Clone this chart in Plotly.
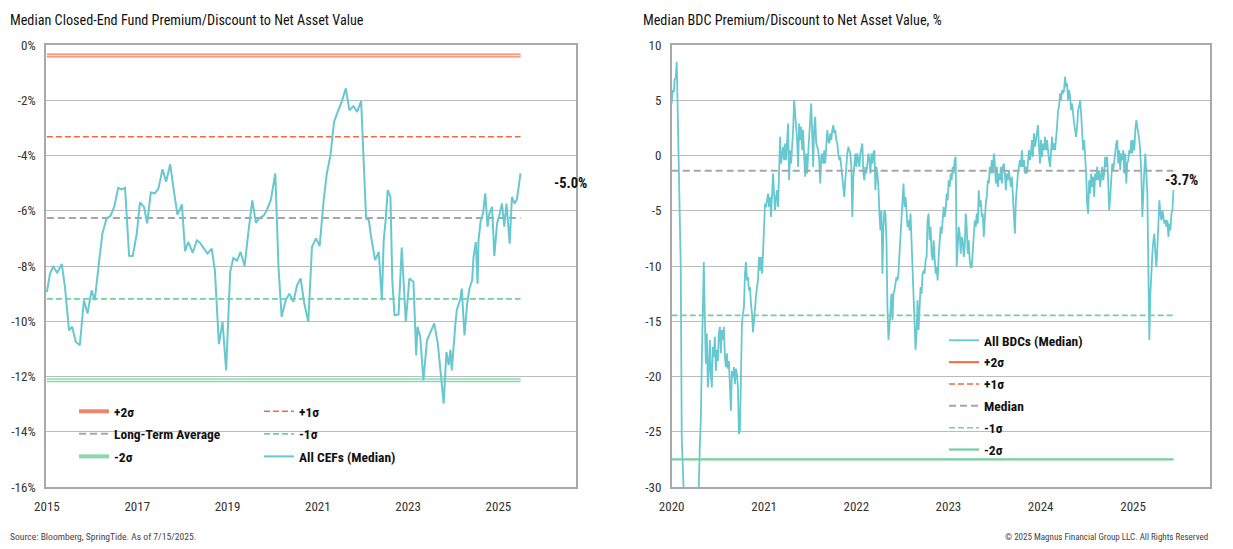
import pandas as pd
import plotly.graph_objects as go

# ---------------- data: left chart (CEF median premium/discount, %) ----------------
cef_years = [2015.00, 2015.07, 2015.14, 2015.23, 2015.33, 2015.40, 2015.49, 2015.56, 2015.64, 2015.73,
             2015.82, 2015.90, 2015.99, 2016.06, 2016.16, 2016.23, 2016.32, 2016.41, 2016.49, 2016.58,
             2016.66, 2016.73, 2016.82, 2016.90, 2016.99, 2017.06, 2017.15, 2017.22, 2017.30, 2017.39,
             2017.47, 2017.56, 2017.64, 2017.73, 2017.82, 2017.89, 2017.99, 2018.06, 2018.13, 2018.23,
             2018.32, 2018.39, 2018.48, 2018.56, 2018.65, 2018.72, 2018.81, 2018.89, 2018.97, 2019.06,
             2019.13, 2019.21, 2019.29, 2019.38, 2019.46, 2019.55, 2019.63, 2019.71, 2019.80, 2019.87,
             2019.96, 2020.06, 2020.13, 2020.20, 2020.29, 2020.37, 2020.46, 2020.54, 2020.62, 2020.70,
             2020.79, 2020.87, 2020.96, 2021.04, 2021.13, 2021.20, 2021.28, 2021.36, 2021.44, 2021.53,
             2021.62, 2021.70, 2021.79, 2021.87, 2021.96, 2022.01, 2022.07, 2022.13, 2022.18, 2022.27,
             2022.35, 2022.42, 2022.46, 2022.50, 2022.55, 2022.61, 2022.65, 2022.70, 2022.79, 2022.86,
             2022.95, 2023.03, 2023.12, 2023.18, 2023.21, 2023.27, 2023.34, 2023.42, 2023.49, 2023.58,
             2023.66, 2023.72, 2023.79, 2023.85, 2023.90, 2023.94, 2023.97, 2024.05, 2024.08, 2024.16,
             2024.19, 2024.25, 2024.31, 2024.36, 2024.42, 2024.45, 2024.50, 2024.54, 2024.56, 2024.61,
             2024.66, 2024.71, 2024.76, 2024.80, 2024.86, 2024.91, 2024.97, 2025.03, 2025.08, 2025.13,
             2025.18, 2025.25, 2025.30, 2025.36, 2025.41, 2025.45, 2025.49]
cef_values = [-8.94, -8.27, -8.03, -8.24, -7.93, -8.76, -10.33, -10.2, -10.75, -10.87,
              -9.24, -9.72, -8.88, -9.24, -7.79, -6.82, -6.28, -6.18, -5.86, -5.17,
              -5.23, -5.17, -7.63, -7.64, -6.82, -5.70, -5.86, -6.46, -5.34, -5.37,
              -5.19, -4.50, -4.95, -4.32, -5.37, -6.14, -5.77, -7.46, -7.13, -7.52,
              -7.07, -7.16, -7.37, -7.55, -7.37, -8.15, -10.83, -10.02, -11.78, -8.21,
              -7.71, -7.81, -7.49, -8.0, -6.82, -5.62, -6.44, -6.26, -6.18, -5.98,
              -5.62, -4.65, -8.03, -9.84, -9.24, -9.0, -9.30, -8.70, -8.45, -9.36,
              -10.02, -7.31, -7.0, -7.28, -5.62, -4.65, -3.99, -2.78, -2.42, -2.05,
              -1.57, -2.36, -2.21, -2.42, -2.03, -3.93, -6.28, -6.34, -6.94, -7.79,
              -7.49, -9.24, -7.07, -6.40, -5.25, -5.50, -8.51, -9.78, -9.75, -7.33,
              -10.02, -8.45, -8.57, -11.23, -10.2, -10.57, -12.14, -10.69, -10.39, -10.08,
              -10.81, -11.9, -12.98, -11.11, -11.59, -11.03, -11.78, -10.08, -9.60, -9.18,
              -8.82, -10.51, -9.36, -8.82, -8.51, -7.67, -7.13, -8.64, -7.07, -6.34,
              -6.10, -5.37, -6.58, -6.10, -5.86, -7.64, -6.46, -6.10, -5.74, -6.58,
              -5.74, -7.19, -5.50, -5.74, -5.59, -5.13, -4.65]
cef_level_names = ["+2σ", "+1σ", "Long-Term Average", "-1σ", "-2σ"]
cef_level_values = [-0.38, -3.32, -6.26, -9.19, -12.14]
cef_last_label = "-5.0%"

# ---------------- data: right chart (BDC median premium/discount, %) ----------------
bdc_first_date = "2020-01-01"
bdc_last_date = "2025-06-10"
bdc_values = [
    4.71, 5.92, 5.7, 6.9, 7.0, 8.49, 4.0, 0.18, -4.05, -10.0,
    -25.5, -29.0, -32, -33, -33.5, -34, -34, -34, -33.5, -33,
    -33, -32.5, -32, -32, -31.5, -31, -31, -30, -26.3, -24.0,
    -18.6, -15.0, -9.64, -14.6, -18.85,
    -16.1, -21.0, -19.5, -16.7, -19.8, -21.0, -17.3, -18.2, -16.4, -19.5,
    -17.6, -18.6, -16.1, -15.5, -17.9, -15.8, -16.7, -15.5, -18.2, -19.15,
    -17.9, -19.3, -18.6, -21.0, -23.1, -19.5, -20.1, -19.15, -20.7, -19.3,
    -19.8, -21.0, -25.2, -24.9, -19.8, -15.2, -14.3, -13.7, -10.7, -9.64,
    -11.3, -11.0, -12.2, -11.9, -13.4, -14.3, -16.0, -14.6, -13.7, -12.8,
    -11.9, -11.3, -9.18, -10.4, -9.18, -10.7, -8.88, -6.16, -4.35, -4.65,
    -4.05, -3.44, -4.65, -3.75, -5.56, -3.75, -1.63, -3.44, -4.95, -3.75,
    -3.14, -4.65, 0.18, 1.69, -0.73, 0.18, 0.79, -0.42, 1.09, -0.42,
    1.39, 2.9, -2.24, 0.48, -0.73, 0.79, 2.3, 5.01, 3.81, 2.6,
    1.39, -1.03,
    2.9, 1.39, 2.6, 0.48, 2.3, -0.12, -1.93, 0.18, -1.63, 0.18,
    2.0, 2.9, 4.71, 2.0, -1.03, 2.6, 3.5, 1.09, 0.79, 0.48,
    -0.42, -2.54, -0.12, 0.18, -0.73, 0.48, -0.73, 1.09, 2.3, 1.39,
    1.09, 2.0, 1.39, 2.3, 2.75, 2.0, 2.3, 1.39, 1.09, 0.18,
    -0.42, -0.12, -1.03, -1.63, -2.84, -3.75, -2.24, -0.42, 0.18, 0.79,
    0.48, 0.18, -1.03, -5.56, -1.93, -0.42, 0.18, -1.03, 0.18, -0.42,
    -1.03, 0.18, 0.79, 1.09, -1.63, -2.24, -1.03, -1.63, -0.73, 0.18,
    -0.42, -1.63, 0.18, -0.73, 0.18, 0.48, -3.14, -1.03, -1.63, -2.84,
    -5.26, -6.77, -4.95, -10.7, -6.46, -4.95, -5.26, -7.67, -13.7, -16.7,
    -15.5, -13.7, -12.5, -14.9, -12.5, -12.2, -11.6, -11.0, -11.3, -10.7,
    -8.88, -7.37, -5.86, -4.35, -2.54, -4.65, -3.75, -4.95, -6.46, -5.86,
    -6.77, -5.26, -7.67, -9.18, -11.3, -15.2, -17.6, -16.1, -13.1, -15.8,
    -13.1, -11.9, -12.5, -10.7, -10.4, -10.7, -9.49, -9.18, -5.86,
    -5.26, -7.67, -6.46, -8.88, -9.49, -7.67, -8.88, -10.7, -10.1, -11.3,
    -9.18, -7.37, -6.46, -7.07, -5.26, -4.65, -5.56, -4.95, -3.44, -4.05,
    -2.24, -2.84, -1.63, -2.24, -1.03, -1.63, -0.42, -0.12, -10.1, -7.67,
    -6.46, -7.07, -8.88, -7.37, -7.67, -9.18, -8.28, -5.26, -6.46, -8.88,
    -7.67, -9.49, -10.1, -10.1, -8.28, -6.46, -5.86, -6.46, -5.26, -6.16,
    -3.14, -4.65, -4.05, -5.56, -5.26, -7.37, -5.26, -4.35, -3.75, -2.24,
    -2.54, -1.03, -1.63, -0.42, -1.63, 0.18, -0.73, -2.54, -1.03, -2.84,
    -1.63, -2.24, -1.03, -2.54, -1.03, -0.73, -1.63, -3.14, -1.63, -2.24,
    -1.33, -2.24, -2.84, -1.93, -3.75, -5.26, -7.07, -4.05, -2.24, -1.63,
    -1.03, -0.42, -1.03, 0.48, -1.03, -0.42, -1.63, -1.03, -1.63, -0.42,
    0.48, -0.42, 0.18, 1.39, -0.12, 2.0, 0.79, 1.39, 2.3, 2.75,
    0.79, -0.73, 1.39, -0.12, 1.09, 0.48, 1.69, 0.48, 1.39, 0.18,
    -0.42, -1.03, 1.09, 1.69, 0.48, 1.09, 0.48, 1.39, 2.6, 4.1,
    4.41, 5.62, 5.01, 5.92, 5.62, 5.92, 7.13, 6.22, 6.53, 5.01,
    5.92, 5.32, 4.11, 4.71, 3.5, 2.9, 2.3, 1.69, 2.6, 4.11,
    4.41, 5.01, 3.81, 2.0, 0.48, 1.39, 0.18, -1.63, -4.35, -5.26,
    -2.24, -3.44, -1.63, -2.84, -1.93, -3.75, -1.63, -2.24, -1.03, -2.24,
    -1.33, -2.84, -1.93, -1.03, -2.24, -1.63, -0.12, -1.03, -0.12, -2.24,
    -4.95, -3.75, -2.24, -0.73, -1.33, -0.42, 0.48, 1.09, 1.39, -0.73,
    0.48, -1.33, 0.18, -0.42, 0.48, -1.63, 0.18, -2.54, -0.73, -0.42,
    0.48, 0.18, 1.39, 0.18, 1.39, 0.48, 2.3, 3.2, 2.6, 2.0,
    1.39, 0.18, -1.63, -5.56, -2.84, -1.33, 0.18, -1.63, -3.44, -10.1,
    -16.7, -12.5, -10.1, -8.88, -7.67, -7.07, -8.88, -10.1, -8.28, -5.86,
    -4.05, -5.26, -5.86, -4.95, -5.56, -6.16, -5.86, -6.46, -5.86, -7.37,
    -6.16, -6.77, -5.26, -4.95, -3.14,
]
bdc_level_names = ["+2σ", "+1σ", "Median", "-1σ", "-2σ"]
bdc_level_values = [24.7, 11.67, -1.39, -14.47, -27.5]
bdc_last_label = "-3.7%"

cef_xticks = ["2015", "2017", "2019", "2021", "2023", "2025"]
cef_yticks = [0, -2, -4, -6, -8, -10, -12, -14, -16]
cef_yticktext = ["0%", "-2%", "-4%", "-6%", "-8%", "-10%", "-12%", "-14%", "-16%"]
bdc_xticks = ["2020", "2021", "2022", "2023", "2024", "2025"]
bdc_yticks = [10, 5, 0, -5, -10, -15, -20, -25, -30]
bdc_yticktext = ["10", "5", "0", "-5", "-10", "-15", "-20", "-25", "-30"]

title_left = "Median Closed-End Fund Premium/Discount to Net Asset Value"
title_right = "Median BDC Premium/Discount to Net Asset Value, %"
source_text = "Source: Bloomberg, SpringTide. As of 7/15/2025."
copyright_text = "© 2025 Magnus Financial Group LLC. All Rights Reserved"


def yr2dt(y):
    yr = int(y)
    a = pd.Timestamp(yr, 1, 1)
    b = pd.Timestamp(yr + 1, 1, 1)
    return a + (b - a) * (y - yr)


cef_dates = [yr2dt(v) for v in cef_years]
bdc_dates = pd.date_range(bdc_first_date, bdc_last_date, periods=len(bdc_values))

FONT = "Roboto Condensed, Liberation Sans Narrow, Arial Narrow, Liberation Sans, Arial, sans-serif"
TEAL = "#68c8cf"
RED = "#f26a3d"
RED2 = "#f08466"
RED2_IN = "#fde0d6"
GRAY = "#a6a6a6"
GREEN = "#72cf9e"
GREEN2 = "#8cd7ae"
GREEN2_IN = "#dcf4e7"
DASH_C = "6px,3px"
DASH_G = "7px,4px"

# page body has an 8px margin: figure is placed at (8, 8) in the 1233x549 window
OFF = 8
W, H = 1233 - OFF, 549 - OFF


def px_x(p):
    return (p - OFF) / W


def px_y(p):
    return 1 - (p - OFF) / H


fig = go.Figure()

# ---- left chart traces ----
cef_span = [cef_dates[0], cef_dates[-1]]
left_styles = [
    dict(color=RED2, width=4, dash="solid", inner=RED2_IN, legend="legend"),
    dict(color=RED, width=1.6, dash=DASH_C, inner=None, legend="legend2"),
    dict(color=GRAY, width=2, dash=DASH_G, inner=None, legend="legend"),
    dict(color=GREEN, width=1.6, dash=DASH_C, inner=None, legend="legend2"),
    dict(color=GREEN2, width=4, dash="solid", inner=GREEN2_IN, legend="legend"),
]
for i, (nm, lv) in enumerate(zip(cef_level_names, cef_level_values)):
    st = left_styles[i]
    fig.add_trace(go.Scatter(x=cef_span, y=[lv, lv], mode="lines", name=nm,
                             line=dict(color=st["color"], width=st["width"], dash=st["dash"]),
                             xaxis="x", yaxis="y", legend=st["legend"], legendgroup="L%d" % i,
                             hoverinfo="skip"))
    if st["inner"]:
        fig.add_trace(go.Scatter(x=cef_span, y=[lv, lv], mode="lines", showlegend=False,
                                 line=dict(color=st["inner"], width=1.5),
                                 xaxis="x", yaxis="y", hoverinfo="skip"))
fig.add_trace(go.Scatter(x=cef_dates, y=cef_values, mode="lines", name="All CEFs (Median)",
                         line=dict(color=TEAL, width=2), xaxis="x", yaxis="y",
                         legend="legend2", legendgroup="L9"))

# ---- right chart traces ----
fig.add_trace(go.Scatter(x=bdc_dates, y=bdc_values, mode="lines", name="All BDCs (Median)",
                         line=dict(color=TEAL, width=1.8), xaxis="x2", yaxis="y2",
                         legend="legend3", legendgroup="R0"))
bdc_span = [bdc_dates[0], bdc_dates[-1]]
right_styles = [
    dict(color=RED, width=2, dash="solid"),
    dict(color=RED, width=1.6, dash=DASH_C),
    dict(color=GRAY, width=2, dash=DASH_G),
    dict(color=GREEN, width=1.6, dash=DASH_C),
    dict(color=GREEN, width=2.2, dash="solid"),
]
for i, (nm, lv) in enumerate(zip(bdc_level_names, bdc_level_values)):
    st = right_styles[i]
    fig.add_trace(go.Scatter(x=bdc_span, y=[lv, lv], mode="lines", name=nm,
                             line=dict(color=st["color"], width=st["width"], dash=st["dash"]),
                             xaxis="x2", yaxis="y2", legend="legend3", legendgroup="R%d" % (i + 1),
                             hoverinfo="skip"))

axis_common = dict(showgrid=False, showline=True, mirror=True, linecolor="#a9a9a9", linewidth=1.5,
                   ticks="", tickfont=dict(family=FONT, size=13, color="#333333"), zeroline=False,
                   automargin=False, ticklabelstandoff=7)
yaxis_common = dict(showgrid=True, gridcolor="#bcbcbc", gridwidth=1, showline=True, mirror=True,
                    linecolor="#a9a9a9", linewidth=1.5, ticks="", zeroline=False, automargin=False,
                    tickfont=dict(family=FONT, size=13, color="#333333"), ticklabelstandoff=6)

leg_common = dict(bgcolor="rgba(0,0,0,0)", font=dict(family=FONT, size=13.5, color="#111111", weight="bold"),
                  orientation="v", xanchor="left", yanchor="top", itemwidth=30)

fig.update_layout(
    width=W, height=H, margin=dict(l=0, r=0, t=0, b=0, autoexpand=False),
    paper_bgcolor="white", plot_bgcolor="white",
    xaxis=dict(domain=[px_x(46), px_x(576)], type="date",
               range=[yr2dt(2014.98), yr2dt(2026.72)],
               tickvals=[pd.Timestamp(int(t), 1, 1) for t in cef_xticks], ticktext=cef_xticks,
               **axis_common),
    yaxis=dict(domain=[px_y(487), px_y(45)], range=[-16, 0], tickvals=cef_yticks,
               ticktext=cef_yticktext, anchor="x", **yaxis_common),
    xaxis2=dict(domain=[px_x(671.7), px_x(1210)], type="date", anchor="y2",
                range=[yr2dt(2020.0), yr2dt(2025.835)],
                tickvals=[pd.Timestamp(int(t), 1, 1) for t in bdc_xticks], ticktext=bdc_xticks,
                **axis_common),
    yaxis2=dict(domain=[px_y(487), px_y(45)], range=[-30, 10], tickvals=bdc_yticks,
                ticktext=bdc_yticktext, anchor="x2", **yaxis_common),
    legend=dict(x=px_x(74), y=px_y(396), tracegroupgap=2, **leg_common),
    legend2=dict(x=px_x(259), y=px_y(396), tracegroupgap=2, **leg_common),
    legend3=dict(x=px_x(944), y=px_y(325), tracegroupgap=1.3, **leg_common),
    showlegend=True,
    shapes=[
        dict(type="rect", xref="paper", yref="paper", x0=px_x(58), x1=px_x(430),
             y0=px_y(470), y1=px_y(395), fillcolor="white", line=dict(width=0), layer="between"),
        dict(type="rect", xref="paper", yref="paper", x0=px_x(940), x1=px_x(1100),
             y0=px_y(470), y1=px_y(332), fillcolor="white", line=dict(width=0), layer="between"),
    ],
    annotations=[
        dict(text=title_left, x=px_x(8), y=px_y(20), xref="paper", yref="paper", xanchor="left",
             yanchor="middle", showarrow=False, font=dict(family=FONT, size=14.2, color="#111111")),
        dict(text=title_right, x=px_x(641), y=px_y(20), xref="paper", yref="paper", xanchor="left",
             yanchor="middle", showarrow=False, font=dict(family=FONT, size=14.2, color="#111111")),
        dict(text=cef_last_label, x=cef_dates[-1], y=cef_values[-1], xref="x", yref="y",
             xanchor="left", yanchor="middle", xshift=31, yshift=-10, showarrow=False,
             font=dict(family=FONT, size=14.5, color="#111111", weight="bold")),
        dict(text=bdc_last_label, x=bdc_dates[-1], y=bdc_values[-1], xref="x2", yref="y2",
             xanchor="left", yanchor="middle", xshift=-10, yshift=10, showarrow=False,
             font=dict(family=FONT, size=14.5, color="#111111", weight="bold")),
        dict(text=source_text, x=px_x(8), y=px_y(536), xref="paper", yref="paper", xanchor="left",
             yanchor="middle", showarrow=False, font=dict(family=FONT, size=9.6, color="#444444")),
        dict(text=copyright_text, x=px_x(1210), y=px_y(537), xref="paper", yref="paper",
             xanchor="right", yanchor="middle", showarrow=False,
             font=dict(family=FONT, size=9, color="#444444")),
    ],
)

fig.write_html("out.html")
